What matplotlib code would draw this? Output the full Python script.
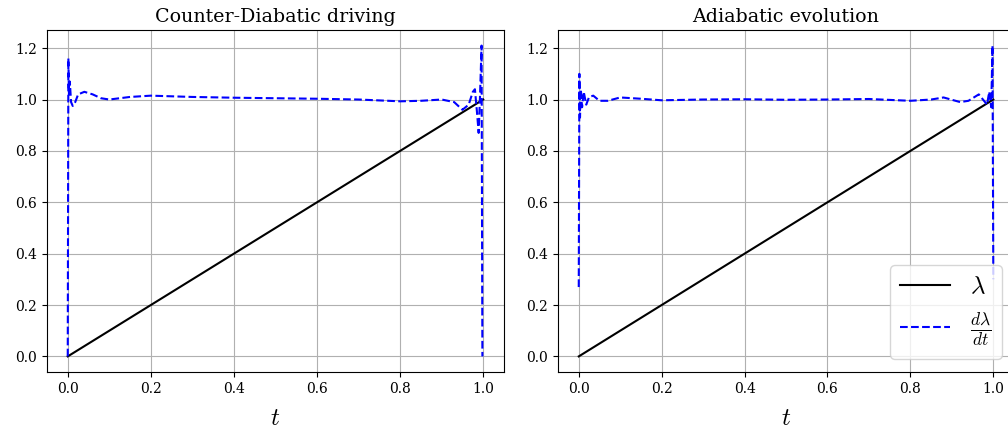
import matplotlib
matplotlib.use('Agg')
import matplotlib.pyplot as plt
import numpy as np

plt.rcParams['font.family'] = 'serif'
plt.rcParams['mathtext.fontset'] = 'cm'

titles = ['Counter-Diabatic driving', 'Adiabatic evolution']

# lambda(t) is a straight ramp in both panels
t_lam = [0.0, 1.0]
lam = [0.0, 1.0]

# d lambda / dt, counter-diabatic driving
t_cd = [0.0, 0.0015, 0.003, 0.005, 0.008, 0.012, 0.018, 0.025, 0.04, 0.06,
        0.08, 0.1, 0.15, 0.2, 0.3, 0.4, 0.5, 0.6, 0.7, 0.8,
        0.85, 0.9, 0.93, 0.95, 0.965, 0.975, 0.98, 0.985, 0.989, 0.992,
        0.996, 0.998]
dl_cd = [0.0, 1.16, 1.02, 1.07, 0.99, 0.975, 0.99, 1.02, 1.03, 1.02,
         1.005, 1.0, 1.01, 1.015, 1.01, 1.007, 1.005, 1.003, 1.0, 0.993,
         0.995, 1.0, 0.99, 0.96, 0.98, 1.03, 1.04, 0.95, 0.87, 1.0,
         1.21, 0.0]

# d lambda / dt, adiabatic evolution
t_ad = [0.0, 0.0015, 0.003, 0.005, 0.008, 0.012, 0.018, 0.025, 0.035, 0.05,
        0.07, 0.1, 0.15, 0.2, 0.3, 0.4, 0.5, 0.6, 0.7, 0.8,
        0.85, 0.88, 0.92, 0.94, 0.965, 0.975, 0.985, 0.99, 0.995, 0.998,
        1.0]
dl_ad = [0.27, 1.10, 0.93, 1.04, 0.97, 1.03, 0.98, 1.01, 1.015, 0.995,
         0.995, 1.008, 1.003, 0.997, 1.0, 1.001, 0.999, 1.0, 1.002, 0.995,
         1.0, 1.008, 0.99, 0.995, 1.02, 1.0, 0.98, 1.03, 0.97, 1.21,
         0.3]

fig = plt.figure(figsize=(10.08, 4.29), dpi=100)
ax1 = fig.add_axes([0.0466, 0.133, 0.4534, 0.797])
ax2 = fig.add_axes([0.5536, 0.133, 0.4524, 0.797])

for ax, ttl, tt, dd in [(ax1, titles[0], t_cd, dl_cd), (ax2, titles[1], t_ad, dl_ad)]:
    ax.plot(t_lam, lam, 'k-', label=r'$\lambda$')
    ax.plot(tt, dd, 'b--', label=r'$\frac{d\lambda}{dt}$')
    ax.set_title(ttl, fontsize=13.7)
    ax.set_xlabel(r'$t$', fontsize=18, labelpad=8)
    ax.set_xticks([0.0, 0.2, 0.4, 0.6, 0.8, 1.0])
    ax.set_yticks([0.0, 0.2, 0.4, 0.6, 0.8, 1.0, 1.2])
    ax.grid(True)

ax2.legend(loc='lower right', fontsize=18)

plt.savefig('out.png', dpi=100)
